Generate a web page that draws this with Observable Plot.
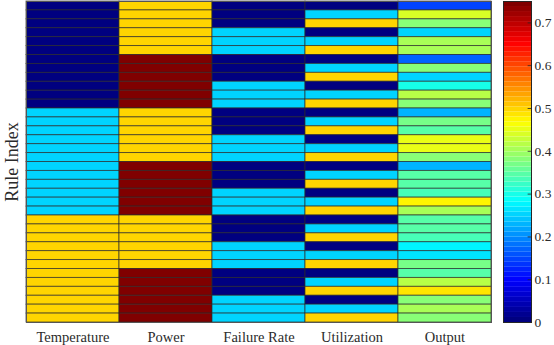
<!DOCTYPE html>
<html><head><meta charset="utf-8">
<script src="https://cdn.jsdelivr.net/npm/d3@7"></script>
<script src="https://cdn.jsdelivr.net/npm/@observablehq/plot@0.6"></script>
<style>
body{margin:0;background:#fff}
#wrap{position:relative;width:554px;height:345px}
#wrap > svg{position:absolute;top:0}
</style>
</head><body><div id="wrap"></div>
<script>
const columns = ["Temperature","Power","Failure Rate","Utilization","Output"];
const temperature = [0,0,0,0,0,0,0,0,0,0,0,0, 0.25,0.25,0.25,0.25,0.25,0.25,0.25,0.25,0.25,0.25,0.25,0.25, 0.5,0.5,0.5,0.5,0.5,0.5,0.5,0.5,0.5,0.5,0.5,0.5];
const power = [0.5,0.5,0.5,0.5,0.5,0.5,0.75,0.75,0.75,0.75,0.75,0.75, 0.5,0.5,0.5,0.5,0.5,0.5,0.75,0.75,0.75,0.75,0.75,0.75, 0.5,0.5,0.5,0.5,0.5,0.5,0.75,0.75,0.75,0.75,0.75,0.75];
const failureRate = [0,0,0,0.25,0.25,0.25, 0,0,0,0.25,0.25,0.25, 0,0,0,0.25,0.25,0.25, 0,0,0,0.25,0.25,0.25, 0,0,0,0.25,0.25,0.25, 0,0,0,0.25,0.25,0.25];
const utilization = [0,0.25,0.5, 0,0.25,0.5, 0,0.25,0.5, 0,0.25,0.5, 0,0.25,0.5, 0,0.25,0.5, 0,0.25,0.5, 0,0.25,0.5, 0,0.25,0.5, 0,0.25,0.5, 0,0.25,0.5, 0,0.25,0.5];
const output = [0.15,0.44,0.375,0.25,0.41,0.41, 0.17,0.375,0.25,0.30,0.42,0.375, 0.225,0.365,0.345,0.45,0.45,0.375, 0.23,0.35,0.345,0.33,0.47,0.40, 0.34,0.34,0.33,0.28,0.26,0.365, 0.34,0.42,0.49,0.375,0.41,0.375];
const colorTicks = [0,0.1,0.2,0.3,0.4,0.5,0.6,0.7];
const colorMax = 0.75;
const nLevels = 64;

const series = [temperature, power, failureRate, utilization, output];
const rows = [];
series.forEach((arr, c) => arr.forEach((v, i) => rows.push({col: columns[c], rule: i + 1, value: v})));

// MATLAB-style jet with 64 discrete levels
const clamp = v => Math.max(0, Math.min(1, v));
function jet(t) {
  let idx = Math.min(nLevels - 1, Math.floor(t * nLevels));
  if (idx < 0) idx = 0;
  const u = idx / (nLevels - 1);
  const r = clamp(1.5 - Math.abs(4 * u - 3));
  const g = clamp(1.5 - Math.abs(4 * u - 2));
  const b = clamp(1.5 - Math.abs(4 * u - 1));
  return `rgb(${Math.round(r*255)},${Math.round(g*255)},${Math.round(b*255)})`;
}
const colorScale = {type: "linear", domain: [0, colorMax], interpolate: () => jet, clamp: true};

const font = "'Liberation Serif', 'Times New Roman', serif";
const ruleDomain = Array.from(temperature, (_, i) => i + 1);

const main = Plot.plot({
  width: 554, height: 345,
  marginLeft: 26, marginRight: 63, marginTop: 1, marginBottom: 23,
  style: {fontFamily: font, fontSize: "14.5px", color: "#2b2b2b", background: "transparent"},
  x: {type: "band", domain: columns, padding: 0, label: null},
  y: {type: "band", domain: ruleDomain, padding: 0, label: null},
  color: colorScale,
  marks: [
    Plot.cell(rows, {x: "col", y: "rule", fill: "value", stroke: "#2a2a2a", strokeWidth: 0.9, strokeOpacity: 0.75}),
    Plot.frame({stroke: "#555", strokeWidth: 1}),
    Plot.axisX({tickSize: 0, tickPadding: 9, label: null, fontSize: 14.5}),
    Plot.axisY({ticks: [], tickSize: 0, label: "Rule Index", labelAnchor: "center", labelArrow: "none", labelOffset: 21, fontSize: 18})
  ]
});

const levels = d3.range(nLevels).map(i => ({y1: i * colorMax / nLevels, y2: (i + 1) * colorMax / nLevels, v: (i + 0.5) * colorMax / nLevels}));
const bar = Plot.plot({
  width: 51, height: 345,
  marginLeft: 0, marginRight: 23, marginTop: 1, marginBottom: 23,
  style: {fontFamily: font, fontSize: "13.5px", color: "#2b2b2b", background: "transparent", overflow: "visible"},
  x: {domain: [0, 1], axis: null},
  y: {domain: [0, colorMax], label: null},
  color: colorScale,
  marks: [
    Plot.rect(levels, {x1: 0, x2: 1, y1: "y1", y2: "y2", fill: "v"}),
    Plot.ruleY(colorTicks, {x1: 0.88, x2: 1, stroke: "#262626", strokeWidth: 0.8}),
    Plot.frame({stroke: "#262626", strokeWidth: 1}),
    Plot.axisY(colorTicks, {anchor: "right", tickSize: 0, tickPadding: 3, label: null, tickFormat: d => d === 0 ? "0" : d.toFixed(1)})
  ]
});
bar.style.left = "503px";

const wrap = document.getElementById("wrap");
main.style.left = "0px";
wrap.appendChild(main);
wrap.appendChild(bar);
</script>
</body></html>
